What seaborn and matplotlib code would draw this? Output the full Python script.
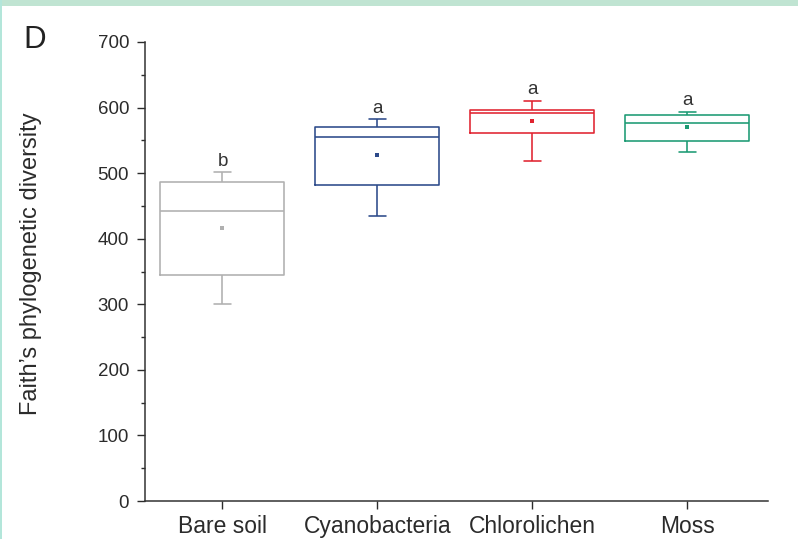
import numpy as np
import pandas as pd
import matplotlib
matplotlib.use("Agg")
import matplotlib.pyplot as plt
from matplotlib.patches import Rectangle
from matplotlib.ticker import MultipleLocator
import seaborn as sns

# ---- data ----
categories = ["Bare soil", "Cyanobacteria", "Chlorolichen", "Moss"]
whisker_low = [301, 435, 518, 533]
q1 = [344, 482, 561, 549]
median = [443, 555, 591, 577]
q3 = [486, 570, 596, 589]
whisker_high = [501, 582, 610, 594]
means = [417, 528, 579, 571]
letters = ["b", "a", "a", "a"]
colors = ["#b0b0b0", "#2c4a8a", "#e0232f", "#1c9a73"]

# five-number summaries as rows, so that the box spans q1..q3 and whiskers span min..max
rows = []
for i, c in enumerate(categories):
    for v in (whisker_low[i], q1[i], median[i], q3[i], whisker_high[i]):
        rows.append({"group": c, "value": v})
df = pd.DataFrame(rows)

sns.set_style("ticks")
plt.rcParams["font.family"] = ["Liberation Sans", "DejaVu Sans"]
plt.rcParams["text.color"] = "#2b2b2b"
plt.rcParams["axes.labelcolor"] = "#2b2b2b"
plt.rcParams["xtick.color"] = "#2b2b2b"
plt.rcParams["ytick.color"] = "#2b2b2b"

fig = plt.figure(figsize=(7.98, 5.39), dpi=100)
fig.patch.set_facecolor("white")
ax = fig.add_axes([145 / 798, 1 - 501 / 539, 623 / 798, 459 / 539])

sns.boxplot(
    data=df, x="group", y="value", hue="group", order=categories,
    hue_order=categories, palette=colors, fill=False, legend=False,
    whis=(0, 100), width=0.8, linewidth=1.15, showfliers=False,
    capwidths=0.105, ax=ax,
)

for i, c in enumerate(categories):
    ax.scatter(i, means[i], marker="s", s=5, color=colors[i], zorder=5, linewidths=0)

for i, c in enumerate(categories):
    ax.annotate(letters[i], xy=(i, whisker_high[i]), xytext=(0, 4.8),
                textcoords="offset points", ha="center", va="baseline",
                fontsize=13.5, color="#333333")

ax.set_xlim(-0.5, 3.52)
ax.set_ylim(0, 700)
ax.yaxis.set_major_locator(MultipleLocator(100))
ax.yaxis.set_minor_locator(MultipleLocator(50))
ax.tick_params(axis="y", which="major", length=6, width=1, labelsize=13.5, pad=5.5)
ax.tick_params(axis="y", which="minor", length=3, width=1)
ax.tick_params(axis="x", which="major", length=6, width=1, labelsize=16.5, pad=4)
ax.set_xlabel("")
ax.set_ylabel("Faith\u2019s phylogenetic diversity", fontsize=17)
ax.yaxis.set_label_coords(-0.165, 0.516)
for s in ("top", "right"):
    ax.spines[s].set_visible(False)
for s in ("left", "bottom"):
    ax.spines[s].set_color("#333333")
    ax.spines[s].set_linewidth(1.1)

fig.text(23 / 798, 1 - 48 / 539, "D", fontsize=22.5, ha="left", va="baseline",
         color="#222222")

fig.patches.append(Rectangle((0, 1 - 6 / 539), 1, 6 / 539, transform=fig.transFigure,
                             facecolor="#c0e4d2", edgecolor="none", zorder=10))
fig.patches.append(Rectangle((0, 0), 2 / 798, 1, transform=fig.transFigure,
                             facecolor="#b3e6da", edgecolor="none", zorder=10))

fig.savefig("out.png", dpi=100)
